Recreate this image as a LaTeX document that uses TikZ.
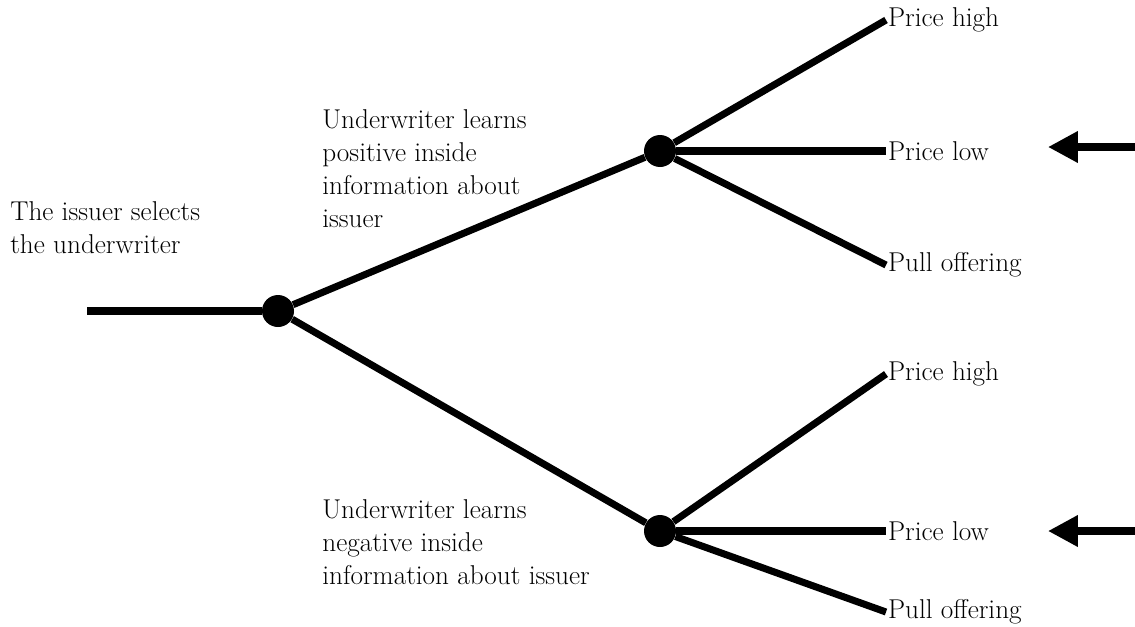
\documentclass[tikz,border=0pt]{standalone}
\usetikzlibrary{arrows.meta,positioning}

\tikzset{
  branch/.style={line width=4pt},
  dot/.style={circle,fill=black,inner sep=0pt,minimum size=0.64cm},
  leaf/.style={anchor=west,inner sep=1pt,font=\fontsize{15.5}{19}\selectfont},
  note/.style={anchor=west,align=left,inner sep=0pt,font=\fontsize{15.5}{18.8}\selectfont}
}

\begin{document}
\begin{tikzpicture}[x=0.02cm,y=-0.02cm]

\useasboundingbox (0,0) rectangle (1135,626);

\def\leafX{886}

\coordinate (start) at (87,311);
\node[dot] (root) at (278,311) {};
\node[dot] (up) at (660,151) {};
\node[dot] (down) at (660,531) {};

% leaves of the upper node
\node[leaf] (uh) at (\leafX,20) {Price high};
\node[leaf] (ul) at (\leafX,151) {Price low};
\node[leaf] (up2) at (\leafX,265) {Pull offering};

% leaves of the lower node
\node[leaf] (dh) at (\leafX,374) {Price high};
\node[leaf] (dl) at (\leafX,531) {Price low};
\node[leaf] (dp) at (\leafX,612) {Pull offering};

\draw[branch] (start) -- (root);
\draw[branch] (root) -- (up);
\draw[branch] (root) -- (down);

\draw[branch] (up) -- (uh.west);
\draw[branch] (up) -- (ul.west);
\draw[branch] (up) -- (up2.west);
\draw[branch] (down) -- (dh.west);
\draw[branch] (down) -- (dl.west);
\draw[branch] (down) -- (dp.west);

\node[note] (sel) at (10,228) {The issuer selects\\the underwriter};
\node[note] (pos) at (322,169) {Underwriter learns\\positive inside\\information about\\issuer};
\node[note] (neg) at (322,542) {Underwriter learns\\negative inside\\information about issuer};

% arrows pointing at the low price
\coordinate (ua) at (1135,147);
\coordinate (ub) at (1048,147);
\coordinate (da) at (1135,531);
\coordinate (db) at (1048,531);
\draw[branch,-{Triangle[length=17pt,width=17pt]}] (ua) -- (ub);
\draw[branch,-{Triangle[length=17pt,width=17pt]}] (da) -- (db);

\end{tikzpicture}
\end{document}
